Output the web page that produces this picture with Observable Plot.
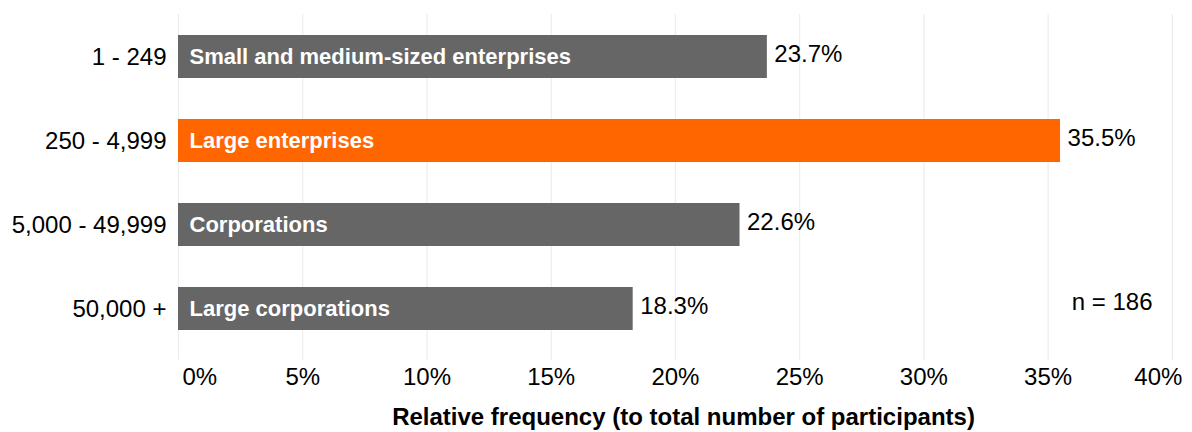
<!DOCTYPE html>
<html><head><meta charset="utf-8">
<script src="https://cdn.jsdelivr.net/npm/d3@7"></script>
<script src="https://cdn.jsdelivr.net/npm/@observablehq/plot@0.6"></script>
<style>body{margin:0;background:#fff;font-family:"Liberation Sans",Arial,sans-serif}</style>
</head><body><div id="chart"></div>
<script>
const categories = ["1 - 249", "250 - 4,999", "5,000 - 49,999", "50,000 +"];
const groups = ["Small and medium-sized enterprises", "Large enterprises", "Corporations", "Large corporations"];
const values = [23.7, 35.5, 22.6, 18.3];
const highlight = [false, true, false, false];
const xTicks = [0, 5, 10, 15, 20, 25, 30, 35, 40];
const xTitle = "Relative frequency (to total number of participants)";
const note = "n = 186";

const data = categories.map((c, i) => ({category: c, group: groups[i], value: values[i], highlight: highlight[i]}));
const midTicks = xTicks.slice(1, -1);
const firstTick = xTicks.slice(0, 1);
const lastTick = xTicks.slice(-1);
const FONT = "'Liberation Sans', Arial, sans-serif";

const chart = Plot.plot({
  width: 1192, height: 432,
  marginLeft: 178, marginRight: 4, marginTop: 14, marginBottom: 82,
  style: {fontFamily: FONT, fontSize: "24px", color: "#000", background: "#fff"},
  x: {domain: [0, 40.65]},
  y: {domain: categories, paddingInner: 0.49, paddingOuter: 0.245},
  color: {type: "identity"},
  marks: [
    Plot.gridX(xTicks, {stroke: "#ededed", strokeOpacity: 1, strokeWidth: 1.2}),
    Plot.axisX({ticks: xTicks, tickSize: 10, stroke: "#ededed", strokeOpacity: 1, strokeWidth: 1.2, tickFormat: () => "", line: true, label: null}),
    Plot.axisY({tickSize: 0, tickPadding: 12, label: null, fontSize: 24, fill: "#000"}),
    Plot.barX(data, {x: "value", y: "category", fill: d => d.highlight ? "#ff6600" : "#666666"}),
    Plot.text(data, {y: "category", text: "group", frameAnchor: "left", lineAnchor: "middle", textAnchor: "start", dx: 11, fill: "#fff", fontWeight: "bold", fontSize: 22}),
    Plot.text(data, {x: "value", y: "category", text: d => d.value.toFixed(1) + "%", textAnchor: "start", dx: 7, dy: -3, fill: "#000", fontSize: 24}),
    Plot.text(midTicks, {x: d => d, text: d => d + "%", frameAnchor: "bottom", lineAnchor: "middle", dy: 27, fill: "#000", fontSize: 24}),
    Plot.text(firstTick, {x: d => d, text: d => d + "%", frameAnchor: "bottom", lineAnchor: "middle", textAnchor: "start", dx: 4, dy: 27, fill: "#000", fontSize: 24}),
    Plot.text(lastTick, {x: d => d, text: d => d + "%", frameAnchor: "bottom", lineAnchor: "middle", textAnchor: "end", dx: 10, dy: 27, fill: "#000", fontSize: 24}),
    Plot.text([xTitle], {text: d => d, frameAnchor: "bottom", lineAnchor: "middle", dy: 67, fontWeight: "bold", fill: "#000", fontSize: 24}),
    Plot.text([note], {text: d => d, frameAnchor: "bottom-right", lineAnchor: "middle", textAnchor: "end", dx: -36, dy: -48, fill: "#000", fontSize: 24})
  ]
});
document.getElementById("chart").appendChild(chart);
</script>
</body></html>
